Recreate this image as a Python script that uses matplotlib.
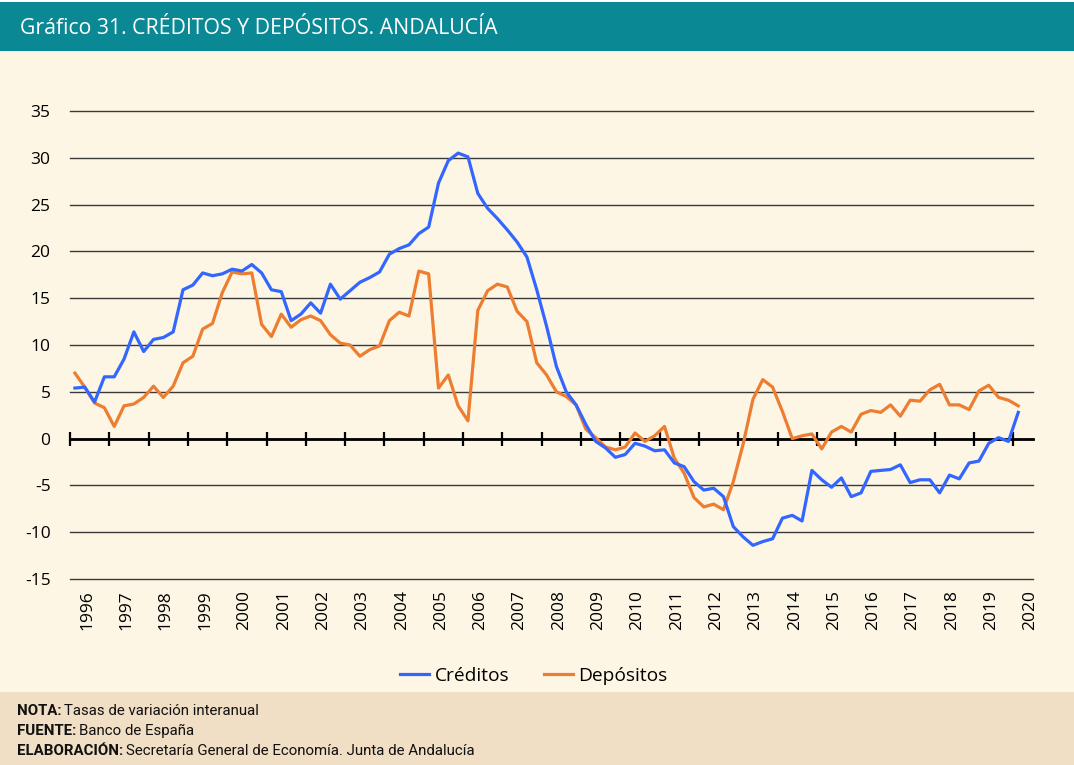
import numpy as np
import matplotlib
matplotlib.use('Agg')
import matplotlib.pyplot as plt
from matplotlib.patches import Rectangle

# ---------------------------------------------------------------------------
# Quarterly year-on-year growth rates (%), 1996Q1 .. 2020Q1
# ---------------------------------------------------------------------------
creditos = [
    5.4, 5.5, 3.9, 6.6, 6.6, 8.5, 11.4, 9.3, 10.6, 10.8, 11.4, 15.9,
    16.4, 17.7, 17.4, 17.6, 18.1, 17.9, 18.6, 17.7, 15.9, 15.7, 12.6, 13.3,
    14.5, 13.4, 16.5, 14.9, 15.8, 16.7, 17.2, 17.8, 19.7, 20.3, 20.7, 21.9,
    22.6, 27.3, 29.7, 30.5, 30.1, 26.2, 24.6, 23.5, 22.3, 21.0, 19.4, 15.9,
    12.0, 7.7, 5.0, 3.6, 1.5, -0.3, -1.0, -2.0, -1.7, -0.5, -0.8, -1.3,
    -1.2, -2.6, -3.0, -4.6, -5.5, -5.3, -6.2, -9.4, -10.5, -11.4, -11.0, -10.7,
    -8.5, -8.2, -8.8, -3.4, -4.4, -5.2, -4.2, -6.2, -5.8, -3.5, -3.4, -3.3,
    -2.8, -4.7, -4.4, -4.4, -5.8, -3.9, -4.3, -2.6, -2.4, -0.5, 0.1, -0.3,
    2.8,
]
depositos = [
    7.0, 5.5, 3.8, 3.3, 1.3, 3.5, 3.7, 4.4, 5.6, 4.4, 5.6, 8.1,
    8.8, 11.7, 12.3, 15.6, 17.8, 17.6, 17.7, 12.2, 10.9, 13.3, 11.9, 12.7,
    13.1, 12.6, 11.1, 10.2, 10.0, 8.8, 9.5, 9.9, 12.6, 13.5, 13.1, 17.9,
    17.6, 5.4, 6.8, 3.5, 1.9, 13.7, 15.8, 16.5, 16.2, 13.6, 12.5, 8.1,
    6.8, 5.0, 4.5, 3.6, 1.0, 0.1, -0.9, -1.2, -0.9, 0.6, -0.3, 0.3,
    1.3, -2.1, -3.7, -6.3, -7.3, -7.0, -7.6, -4.6, -0.6, 4.2, 6.3, 5.5,
    2.9, 0.0, 0.3, 0.5, -1.1, 0.7, 1.3, 0.7, 2.6, 3.0, 2.8, 3.6,
    2.4, 4.1, 4.0, 5.2, 5.8, 3.6, 3.6, 3.1, 5.1, 5.7, 4.4, 4.1,
    3.5,
]
years = list(range(1996, 2021))
yticks = [-15, -10, -5, 0, 5, 10, 15, 20, 25, 30, 35]

TEAL = '#0A8995'
CREAM = '#FDF6E4'
TAN = '#F0DEC5'
BLUE = '#3366FF'
ORANGE = '#ED7D31'
FONT = ['Open Sans', 'DejaVu Sans']
NOTE_FONT = ['Roboto', 'DejaVu Sans']

plt.rcParams['axes.unicode_minus'] = False

W, H = 1074, 765
fig = plt.figure(figsize=(W / 100, H / 100), dpi=100, facecolor=CREAM)

# header and footer bands
fig.patches.append(Rectangle((0, 1 - 51 / H), 1, 49 / H, transform=fig.transFigure,
                             facecolor=TEAL, edgecolor='none', zorder=0))
fig.patches.append(Rectangle((0, 1 - 2 / H), 1, 2 / H, transform=fig.transFigure,
                             facecolor='white', edgecolor='none', zorder=0))
fig.patches.append(Rectangle((0, 0), 1, 1 - 692 / H, transform=fig.transFigure,
                             facecolor=TAN, edgecolor='none', zorder=0))
fig.text(20 / W, 1 - 29 / H, 'Gráfico 31. CRÉDITOS Y DEPÓSITOS. ANDALUCÍA',
         color='white', fontsize=15.3, family=FONT, va='center', ha='left')

ax = fig.add_axes([70 / W, 1 - 579 / H, 963 / W, 468 / H])
ax.set_facecolor('none')

x = np.arange(len(creditos))
ax.plot(x, creditos, color=BLUE, lw=2.3, label='Créditos', zorder=4)
ax.plot(x, depositos, color=ORANGE, lw=2.3, label='Depósitos', zorder=3)

ax.set_xlim(-0.5, 97.5)
ax.set_ylim(-15, 35)
ax.set_yticks(yticks)
ax.yaxis.grid(True, color='#3a3a3a', lw=1.0)
for gl in ax.get_ygridlines():
    gl.set_clip_on(False)
ax.set_axisbelow(True)
for s in ['left', 'right', 'top']:
    ax.spines[s].set_visible(False)
ax.tick_params(axis='y', length=0, pad=14, labelsize=12.5)
for lab in ax.get_yticklabels():
    lab.set_family(FONT)

# zero line with year boundary ticks
ax.spines['bottom'].set_position(('data', 0))
ax.spines['bottom'].set_linewidth(2)
ax.spines['bottom'].set_zorder(2)
year_edges = [-0.5 + 4 * k for k in range(len(years))]
ax.set_xticks(year_edges)
ax.tick_params(axis='x', direction='inout', length=10, width=1.6, labelbottom=False)

# year labels below the plot area
sec = ax.secondary_xaxis('bottom')
sec.set_xticks([1.25 + 4 * k for k in range(len(years))],
               labels=[str(y) for y in years], rotation=90)
sec.tick_params(length=0, pad=8, labelsize=12.5)
sec.spines['bottom'].set_visible(False)
for lab in sec.get_xticklabels():
    lab.set_family(FONT)

fig.legend(loc='center', bbox_to_anchor=(534 / W, 1 - 676 / H), ncol=2, frameon=False,
           prop={'family': FONT, 'size': 13.8}, handlelength=1.5, handletextpad=0.3,
           columnspacing=1.8)

# footer notes: bold key + regular text
notes = [('NOTA:', 'Tasas de variación interanual'),
         ('FUENTE:', 'Banco de España'),
         ('ELABORACIÓN:', 'Secretaría General de Economía. Junta de Andalucía')]
renderer = fig.canvas.get_renderer()
for k, (key, txt) in enumerate(notes):
    yy = 1 - (711 + 20 * k) / H
    t = fig.text(17 / W, yy, key, fontsize=10.8, family=NOTE_FONT, weight='bold',
                 va='center', ha='left', color='#111111')
    bb = t.get_window_extent(renderer)
    fig.text(bb.x1 / W + 3 / W, yy, txt, fontsize=10.8, family=NOTE_FONT,
             va='center', ha='left', color='#111111')

fig.savefig('out.png', dpi=100, facecolor=CREAM)
